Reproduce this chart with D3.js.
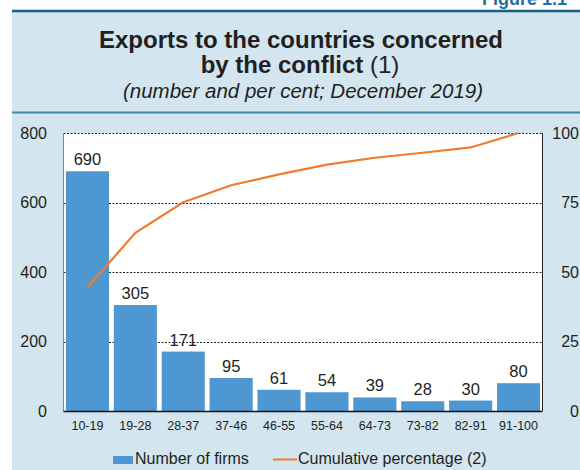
<!DOCTYPE html>
<html><head><meta charset="utf-8">
<script src="https://cdn.jsdelivr.net/npm/d3@7"></script>
<style>body{margin:0;background:#fff}svg{display:block;font-family:"Liberation Sans",Arial,sans-serif}</style>
</head><body><svg id="c" width="580" height="470"></svg>
<script>
const categories = ["10-19","19-28","28-37","37-46","46-55","55-64","64-73","73-82","82-91","91-100"];
const firms = [690,305,171,95,61,54,39,28,30,80];
const cumulative = [44.4,64.1,75.1,81.2,85.1,88.6,91.1,92.9,94.8,100];
const leftTicks = [0,200,400,600,800];
const rightTicks = [0,25,50,75,100];

const FONT = "Liberation Sans, Arial, sans-serif";
const INK = "#231f20";
const svg = d3.select("#c");
svg.append("rect").attr("x",12).attr("y",12).attr("width",568).attr("height",458).attr("fill","#d3e5ef");
svg.append("line").attr("x1",12).attr("x2",580).attr("y1",11).attr("y2",11).attr("stroke","#1b5f86").attr("stroke-width",2.5);
svg.append("text").attr("x",482).attr("y",5).attr("font-weight","bold").attr("font-size",18).attr("fill","#1f6fa0").text("Figure 1.1");
svg.append("line").attr("x1",12).attr("x2",580).attr("y1",112.5).attr("y2",112.5).attr("stroke","#3d87aa").attr("stroke-width",2);

svg.append("text").attr("x",301).attr("y",48).attr("text-anchor","middle").attr("font-weight","bold").attr("font-size",24).attr("fill",INK).text("Exports to the countries concerned");
const t2 = svg.append("text").attr("x",300).attr("y",73).attr("text-anchor","middle").attr("font-size",24).attr("fill",INK);
t2.append("tspan").attr("font-weight","bold").text("by the conflict ");
t2.append("tspan").text("(1)");
svg.append("text").attr("x",303).attr("y",98).attr("text-anchor","middle").attr("font-style","italic").attr("font-size",20.5).attr("fill",INK).text("(number and per cent; December 2019)");

const L=63.5,R=542.5,T=133,B=411;
const x = d3.scaleBand().domain(categories).range([L,R]).paddingInner(0.1).paddingOuter(0.05);
const y = d3.scaleLinear().domain([0,800]).range([B,T]);
const y2 = d3.scaleLinear().domain([0,100]).range([B,T]);

svg.append("rect").attr("x",L).attr("y",T).attr("width",R-L).attr("height",B-T).attr("fill","#fff");
svg.append("g").selectAll("line").data(leftTicks.filter(d=>d>0)).join("line")
  .attr("x1",L).attr("x2",R).attr("y1",d=>Math.round(y(d))+0.5).attr("y2",d=>Math.round(y(d))+0.5)
  .attr("stroke","#222").attr("stroke-width",1).attr("stroke-dasharray","2,1.5");

svg.append("g").selectAll("rect").data(firms).join("rect")
  .attr("x",(d,i)=>x(categories[i])).attr("width",x.bandwidth())
  .attr("y",d=>y(d)).attr("height",d=>B-y(d)).attr("fill","#4f97d1");

svg.append("g").selectAll("text").data(firms).join("text")
  .attr("x",(d,i)=>x(categories[i])+x.bandwidth()/2).attr("y",d=>y(d)-6)
  .attr("text-anchor","middle").attr("font-size",16.5).attr("fill",INK).text(d=>d);

const line = d3.line().x((d,i)=>x(categories[i])+x.bandwidth()/2).y(d=>y2(d));
svg.append("path").datum(cumulative).attr("d",line).attr("fill","none").attr("stroke","#ef7d2d").attr("stroke-width",2.2);

svg.append("line").attr("x1",L).attr("x2",L).attr("y1",T).attr("y2",B).attr("stroke","#888").attr("stroke-width",1);
svg.append("line").attr("x1",R).attr("x2",R).attr("y1",T).attr("y2",B).attr("stroke","#222").attr("stroke-width",1);
svg.append("line").attr("x1",L).attr("x2",R).attr("y1",B+0.5).attr("y2",B+0.5).attr("stroke","#111").attr("stroke-width",1.5);

const ly = d3.axisLeft(y).tickValues(leftTicks).tickSize(0).tickPadding(16.5);
const gl = svg.append("g").attr("transform",`translate(${L},0)`).call(ly);
gl.select(".domain").remove();
gl.selectAll("text").attr("font-size",16).attr("fill",INK).attr("font-family",FONT);

const ry = d3.axisRight(y2).tickValues(rightTicks).tickSize(0).tickPadding(0);
const gr = svg.append("g").attr("transform",`translate(579,0)`).call(ry);
gr.select(".domain").remove();
gr.selectAll("text").attr("text-anchor","end").attr("font-size",16).attr("fill",INK).attr("font-family",FONT);

const bx = d3.axisBottom(x).tickSize(0);
const gb = svg.append("g").attr("transform",`translate(0,${B})`).call(bx);
gb.select(".domain").remove();
gb.selectAll("text").attr("y",19).attr("dy",0).attr("font-size",12.5).attr("fill",INK).attr("font-family",FONT);

svg.append("rect").attr("x",113).attr("y",456).attr("width",20).attr("height",8).attr("fill","#4f97d1");
svg.append("text").attr("x",135).attr("y",464).attr("font-size",16).attr("fill",INK).text("Number of firms");
svg.append("line").attr("x1",273).attr("x2",297).attr("y1",459.5).attr("y2",459.5).attr("stroke","#ef7d2d").attr("stroke-width",2);
svg.append("text").attr("x",298).attr("y",464).attr("font-size",16).attr("fill",INK).text("Cumulative percentage (2)");
</script></body></html>
